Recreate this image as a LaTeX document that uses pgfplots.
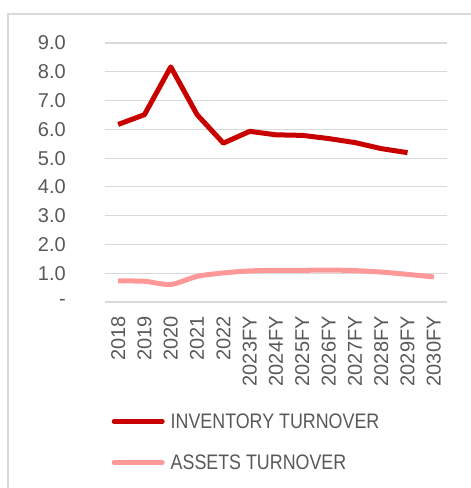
\documentclass[border=0pt]{standalone}
\usepackage{fontspec}
\setmainfont{Liberation Sans}
\newfontfamily\legfont{Liberation Sans}[FakeStretch=0.85]
\usepackage{pgfplots}
\pgfplotsset{compat=1.18}
\definecolor{inv}{HTML}{C80000}
\definecolor{ast}{HTML}{FF9999}
\definecolor{gridc}{HTML}{D9D9D9}
\definecolor{txt}{HTML}{595959}
\begin{document}
\begin{tikzpicture}
\useasboundingbox (-105pt,-186pt) rectangle (366pt,302pt);
\draw[gridc, line width=1.5pt] (-97pt,-220pt) -- (-97pt,288pt) -- (420pt,288pt);
\begin{axis}[
  at={(0pt,0pt)}, anchor=south west,
  scale only axis, width=342pt, height=259pt,
  xmin=-0.5, xmax=12.5, ymin=0, ymax=9,
  xtick={0,...,12},
  xticklabels={2018,2019,2020,2021,2022,2023FY,2024FY,2025FY,2026FY,2027FY,2028FY,2029FY,2030FY},
  ytick={0,...,9},
  yticklabels={-\hspace{5pt},1.0,2.0,3.0,4.0,5.0,6.0,7.0,8.0,9.0},
  ymajorgrids, grid style={gridc, line width=1.2pt},
  axis line style={draw=none}, major tick length=0pt,
  ticklabel style={font=\fontsize{20}{20}\selectfont, text=txt},
  yticklabel style={inner sep=0pt},
  yticklabel shift=39pt,
  xticklabel style={rotate=90, anchor=east, inner sep=0pt},
  xticklabel shift=14pt,
  clip=false,
  legend cell align=left,
  legend style={draw=none, fill=none, at={(rel axis cs:0.0196,-0.432)}, anchor=north west,
    inner sep=0pt, outer sep=0pt, row sep=26pt, column sep=6pt,
    font=\legfont\fontsize{21}{21}\selectfont, text=txt,
    nodes={inner sep=0pt, text height=15pt, text depth=0pt}},
  legend image code/.code={\draw[#1, line cap=round] (2.5pt,0pt) -- (50.5pt,0pt);},
]
\addplot[inv, line width=5pt, line join=round] coordinates {
 (0,6.17) (1,6.51) (2,8.17) (3,6.51) (4,5.52) (5,5.93) (6,5.81) (7,5.79) (8,5.68) (9,5.54) (10,5.33) (11,5.19)};
\addlegendentry{INVENTORY TURNOVER}
\addplot[ast, line width=5pt, line join=round, smooth] coordinates {
 (0,0.73) (1,0.72) (2,0.61) (3,0.89) (4,1.01) (5,1.08) (6,1.10) (7,1.10) (8,1.11) (9,1.09) (10,1.04) (11,0.96) (12,0.87)};
\addlegendentry{ASSETS TURNOVER}
\end{axis}
\end{tikzpicture}
\end{document}
